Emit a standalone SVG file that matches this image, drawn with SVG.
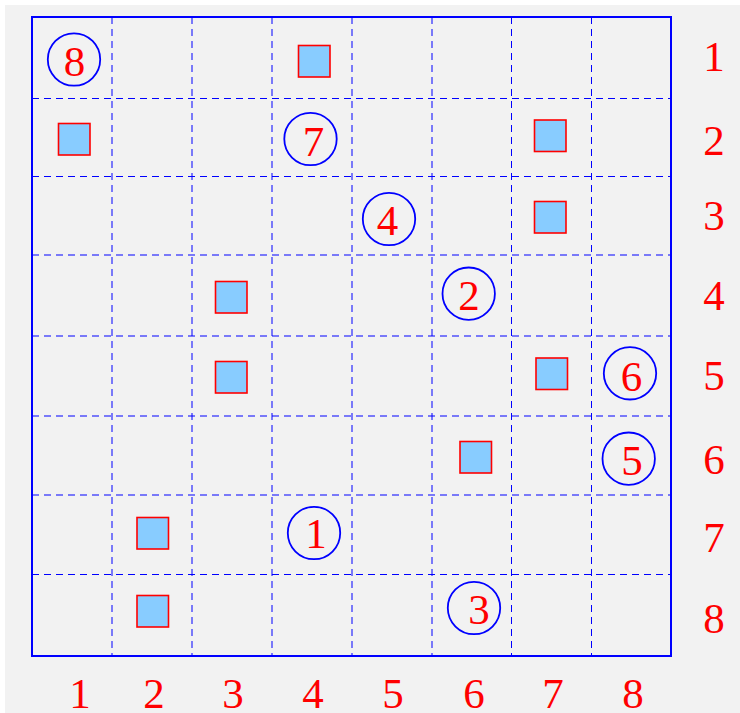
<svg xmlns="http://www.w3.org/2000/svg" width="740" height="713" viewBox="0 0 740 713">
<style>
.bg{fill:#f2f2f2}
.border{fill:none;stroke:#0000ff;stroke-width:2}
.dash{stroke:#0000ff;stroke-width:1;stroke-dasharray:7,5;fill:none}
.sq{fill:#88ccff;stroke:#ff0000;stroke-width:1.6}
.ci{fill:none;stroke:#0000ff;stroke-width:1.8}
.t{font-family:"Liberation Serif","Times New Roman",serif;font-size:43px;fill:#ff0000;text-anchor:middle}
</style>
<rect class="bg" x="5" y="5" width="735" height="708"/>
<g id="grid">
<g id="connectors">
<line class="dash" x1="112" y1="17" x2="112" y2="656"/>
<line class="dash" x1="192" y1="17" x2="192" y2="656"/>
<line class="dash" x1="272" y1="17" x2="272" y2="656"/>
<line class="dash" x1="352" y1="17" x2="352" y2="656"/>
<line class="dash" x1="432" y1="17" x2="432" y2="656"/>
<line class="dash" x1="511.5" y1="17" x2="511.5" y2="656"/>
<line class="dash" x1="591.5" y1="17" x2="591.5" y2="656"/>
<line class="dash" x1="32" y1="98.5" x2="671" y2="98.5"/>
<line class="dash" x1="32" y1="176.5" x2="671" y2="176.5"/>
<line class="dash" x1="32" y1="255" x2="671" y2="255"/>
<line class="dash" x1="32" y1="336" x2="671" y2="336"/>
<line class="dash" x1="32" y1="416" x2="671" y2="416"/>
<line class="dash" x1="32" y1="495" x2="671" y2="495"/>
<line class="dash" x1="32" y1="574.5" x2="671" y2="574.5"/>
</g>
<rect class="border" x="32" y="17" width="639" height="639"/>
</g>
<g id="squares">
<rect id="sq-1-4" class="sq" x="298.5" y="45.5" width="31.5" height="31.5"/>
<rect id="sq-2-1" class="sq" x="58.5" y="123.5" width="31.5" height="31.5"/>
<rect id="sq-2-7" class="sq" x="534.5" y="120" width="31.5" height="31.5"/>
<rect id="sq-3-7" class="sq" x="534.5" y="201.5" width="31.5" height="31.5"/>
<rect id="sq-4-3" class="sq" x="215.5" y="281.5" width="31.5" height="31.5"/>
<rect id="sq-5-3" class="sq" x="215.5" y="361.5" width="31.5" height="31.5"/>
<rect id="sq-5-7" class="sq" x="536" y="358" width="31.5" height="31.5"/>
<rect id="sq-6-6" class="sq" x="460" y="441.5" width="31.5" height="31.5"/>
<rect id="sq-7-2" class="sq" x="137" y="517.5" width="31.5" height="31.5"/>
<rect id="sq-8-2" class="sq" x="137" y="595.5" width="31.5" height="31.5"/>
</g>
<g id="circle-8"><circle class="ci" cx="74" cy="59.5" r="26.2"/><text class="t" x="74.5" y="76">8</text></g>
<g id="circle-7"><circle class="ci" cx="310.5" cy="139" r="26.2"/><text class="t" x="313.5" y="155.5">7</text></g>
<g id="circle-4"><circle class="ci" cx="389" cy="219" r="26.2"/><text class="t" x="387.5" y="234.5">4</text></g>
<g id="circle-2"><circle class="ci" cx="468.7" cy="293.7" r="26.2"/><text class="t" x="469" y="310">2</text></g>
<g id="circle-6"><circle class="ci" cx="630" cy="373.3" r="26.2"/><text class="t" x="631.5" y="391">6</text></g>
<g id="circle-5"><circle class="ci" cx="628.7" cy="458.7" r="26.2"/><text class="t" x="632" y="475">5</text></g>
<g id="circle-1"><circle class="ci" cx="314" cy="533" r="26.2"/><text class="t" x="316" y="547.5">1</text></g>
<g id="circle-3"><circle class="ci" cx="474" cy="608" r="26.2"/><text class="t" x="479" y="624">3</text></g>
<g id="row-labels">
<text class="t" x="714" y="70.5">1</text>
<text class="t" x="714" y="155">2</text>
<text class="t" x="714" y="230">3</text>
<text class="t" x="714" y="310">4</text>
<text class="t" x="714" y="390">5</text>
<text class="t" x="714" y="474">6</text>
<text class="t" x="714" y="552">7</text>
<text class="t" x="714" y="633">8</text>
</g>
<g id="col-labels">
<text class="t" x="80" y="708">1</text>
<text class="t" x="154" y="708">2</text>
<text class="t" x="233" y="708">3</text>
<text class="t" x="313" y="708">4</text>
<text class="t" x="393" y="708">5</text>
<text class="t" x="474" y="708">6</text>
<text class="t" x="553" y="708">7</text>
<text class="t" x="633" y="708">8</text>
</g>
</svg>
